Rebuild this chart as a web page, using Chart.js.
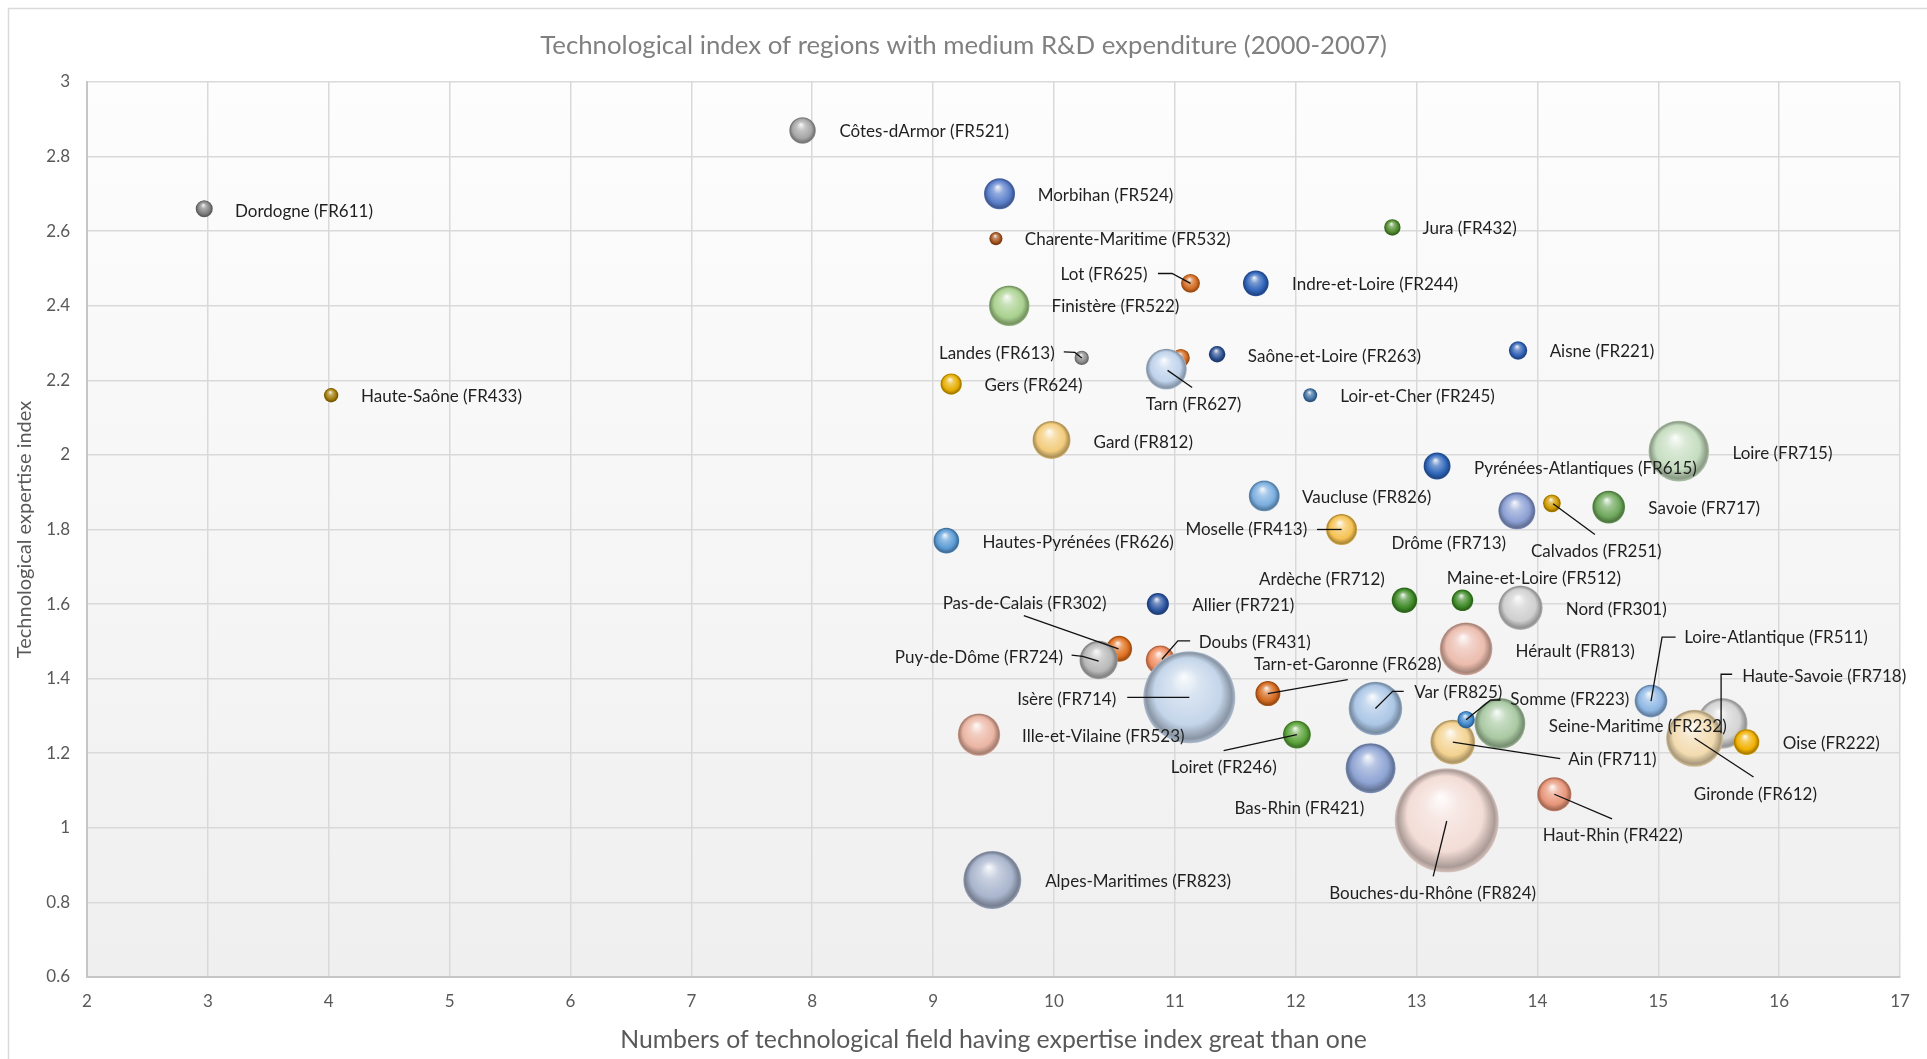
<!DOCTYPE html>
<html>
<head>
<meta charset="utf-8">
<script src="https://cdn.jsdelivr.net/npm/chart.js@4"></script>
<style>
  html, body { margin: 0; padding: 0; background: #ffffff; }
  canvas { display: block; }
</style>
</head>
<body>
<canvas id="c" width="1927" height="1059"></canvas>
<script>
// ---------------- DATA ----------------
const chartTitle = 'Technological index of regions with medium R&D expenditure (2000-2007)';
const xAxisTitle = 'Numbers of technological field having expertise index great than one';
const yAxisTitle = 'Technological expertise index';

const regions = [
  'Côtes-dArmor (FR521)', 'Dordogne (FR611)', 'Morbihan (FR524)', 'Jura (FR432)',
  'Charente-Maritime (FR532)', 'Lot (FR625)', 'Indre-et-Loire (FR244)', 'Finistère (FR522)',
  'Landes (FR613)', '', 'Tarn (FR627)', 'Saône-et-Loire (FR263)', 'Aisne (FR221)',
  'Haute-Saône (FR433)', 'Gers (FR624)', 'Loir-et-Cher (FR245)', 'Gard (FR812)',
  'Loire (FR715)', 'Pyrénées-Atlantiques (FR615)', 'Vaucluse (FR826)', 'Drôme (FR713)',
  'Calvados (FR251)', 'Savoie (FR717)', 'Moselle (FR413)', 'Hautes-Pyrénées (FR626)',
  'Ardèche (FR712)', 'Maine-et-Loire (FR512)', 'Nord (FR301)', 'Allier (FR721)',
  'Hérault (FR813)', 'Pas-de-Calais (FR302)', 'Puy-de-Dôme (FR724)', 'Doubs (FR431)',
  'Isère (FR714)', 'Tarn-et-Garonne (FR628)', 'Var (FR825)', 'Loire-Atlantique (FR511)',
  'Seine-Maritime (FR232)', 'Ain (FR711)', 'Somme (FR223)', 'Haute-Savoie (FR718)',
  'Gironde (FR612)', 'Oise (FR222)', 'Ille-et-Vilaine (FR523)', 'Loiret (FR246)',
  'Bas-Rhin (FR421)', 'Haut-Rhin (FR422)', 'Bouches-du-Rhône (FR824)', 'Alpes-Maritimes (FR823)'
];

// number of technological fields with expertise index > 1
const fieldCounts = [
  7.92, 2.97, 9.55, 12.80,
  9.52, 11.13, 11.67, 9.63,
  10.23, 11.05, 10.93, 11.35, 13.84,
  4.02, 9.15, 12.12, 9.98,
  15.17, 13.17, 11.74, 13.83,
  14.12, 14.59, 12.38, 9.11,
  12.90, 13.38, 13.86, 10.86,
  13.41, 10.54, 10.37, 10.88,
  11.12, 11.77, 12.66, 14.94,
  13.69, 13.30, 13.41, 15.53,
  15.30, 15.73, 9.38, 12.01,
  12.62, 14.14, 13.25, 9.49
];

// technological expertise index
const expertiseIndex = [
  2.87, 2.66, 2.70, 2.61,
  2.58, 2.46, 2.46, 2.40,
  2.26, 2.26, 2.23, 2.27, 2.28,
  2.16, 2.19, 2.16, 2.04,
  2.01, 1.97, 1.89, 1.85,
  1.87, 1.86, 1.80, 1.77,
  1.61, 1.61, 1.59, 1.60,
  1.48, 1.48, 1.45, 1.45,
  1.35, 1.36, 1.32, 1.34,
  1.28, 1.23, 1.29, 1.28,
  1.24, 1.23, 1.25, 1.25,
  1.16, 1.09, 1.02, 0.86
];

// bubble size (relative, Bouches-du-Rhône = 100)
const bubbleSizes = [
  6.5, 2.7, 8.9, 2.5,
  1.6, 3.3, 6.1, 15.2,
  1.9, 3.0, 15.5, 2.5, 3.1,
  1.9, 4.2, 1.8, 13.4,
  34.0, 6.7, 8.8, 12.7,
  2.9, 9.9, 8.9, 6.1,
  6.0, 4.3, 18.2, 4.5,
  25.6, 6.2, 13.6, 7.8,
  78.3, 5.8, 26.6, 9.9,
  23.9, 18.6, 2.8, 23.7,
  30.0, 6.1, 16.6, 7.2,
  23.1, 10.8, 100, 31.1
];

const xTicksMin = 2, xTicksMax = 17, xStep = 1;
const yTicksMin = 0.6, yTicksMax = 3, yStep = 0.2;

// ---------------- STYLE ----------------
const pointColors = [
  '#a6a6a6', '#7f7f7f', '#5b7fcb', '#4e8a2c',
  '#a4521c', '#d2691f', '#3063ba', '#a9d18e',
  '#8c8c8c', '#d2691f', '#bfd3ec', '#2b4f92', '#3060b5',
  '#a07a06', '#e6ad00', '#3f71a3', '#f3cc7c',
  '#c6ddc0', '#2f66ba', '#7aaee0', '#8c9fd4',
  '#d09a00', '#6fa85c', '#f6c252', '#5b9bd5',
  '#3f8a28', '#3f8a28', '#cfcfcf', '#2c55a3',
  '#ebbcad', '#e0701f', '#b8b8b8', '#f08c5f',
  '#c4d5ea', '#d46a1f', '#abc6e6', '#8db6e3',
  '#a9c9a2', '#f3d290', '#3f88cc', '#d4d4d4',
  '#f2dbb0', '#f0b000', '#ebb5a3', '#5aa33a',
  '#8ea4d4', '#e8967a', '#f3dcd6', '#a9b5cd'
];

const K = 1927 / 1568;
// label placement: [dx, dy, align, leader polyline] relative to bubble centre (reference units)
const labelLayout = [
  [30, 1, 'left'], [25, 2, 'left'], [31, 1, 'left'], [24.5, 1, 'left'],
  [23.5, 1, 'left'], [-35, -7, 'right', [[-26.5, -8], [-15, -8], [0, 0]]], [29.5, 1, 'left'], [34.5, 1, 'left'],
  [-22, -3.5, 'right', [[-14.6, -5], [-5.6, -4.5], [0, 0]]], null, [-16.7, 28.8, 'left', [[1, 1], [21, 15]]], [25, 1.6, 'left'], [25.7, 0.6, 'left'],
  [24.3, 0.8, 'left'], [27, 0.8, 'left'], [24.5, 1, 'left'], [34.2, 1.7, 'left'],
  [43.7, 1.6, 'left'], [30, 1.9, 'left'], [30.7, 0.9, 'left'], [-8.8, 26.3, 'right'],
  [-17, 39.3, 'left', [[1, 0.3], [35, 25.3]]], [32.2, 1.1, 'left'], [-28, 0, 'right', [[-20, 0], [0, 0]]], [29.5, 1.3, 'left'],
  [-16, -17.2, 'right'], [-12.7, -17.5, 'left'], [36.8, 1.5, 'left'], [28, 1.2, 'left'],
  [40.3, 2, 'left'], [-77, -37, 'center', [[-0.6, 0], [-77.6, -27]]], [-29, -2.4, 'right', [[0, 1], [-13, -3], [-22, -4]]], [31.3, -14.6, 'left', [[1.3, -0.6], [14.3, -15.6], [24.3, -15.6]]],
  [-59.5, 2, 'right', [[-50.5, 0], [0, 0]]], [65, -23.8, 'center', [[0, 0], [65, -11.3]]], [31.5, -13, 'left', [[0, 0], [14, -14], [23, -14]]], [27, -51.5, 'left', [[0, 0], [9, -52], [20, -52]]],
  [39.7, 2.6, 'left'], [94, 14, 'left', [[0, 0], [87.4, 13.4]]], [36, -16, 'left', [[0, 0], [20, -16], [28, -16]]], [16.3, -38, 'left', [[-1, 8], [-1, -40], [8, -40]]],
  [49.5, 45.5, 'center', [[0, 0], [48, 31.5]]], [29.5, 1.5, 'left'], [35, 1.5, 'left'], [-59.5, 27, 'center', [[0, 0], [-59.6, 13]]],
  [-58, 32.6, 'center'], [47.6, 33.6, 'center', [[0, 0], [47, 20]]], [-11.5, 59.5, 'center', [[0, 0.5], [-11, 45.5]]], [43, 1.6, 'left']
];

const FONT = 'Lato, "Open Sans", sans-serif';
const MAX_R = 52; // px radius of size 100
function radiusFor(size) { return MAX_R * Math.sqrt(size / 100); }

function hexToRgb(h) {
  const n = parseInt(h.slice(1), 16);
  return [(n >> 16) & 255, (n >> 8) & 255, n & 255];
}
function mix(hex, target, t) {
  const a = hexToRgb(hex), b = hexToRgb(target);
  const c = a.map((v, i) => Math.round(v + (b[i] - v) * t));
  return `rgb(${c[0]},${c[1]},${c[2]})`;
}

function bubbleFill(context) {
  const chart = context.chart;
  const i = context.dataIndex;
  const base = pointColors[i];
  const xs = chart.scales.x, ys = chart.scales.y;
  if (!xs || !ys || !context.raw) return base;
  const px = xs.getPixelForValue(context.raw.x);
  const py = ys.getPixelForValue(context.raw.y);
  const r = context.raw.r;
  if (!isFinite(px) || !isFinite(py)) return base;
  const g = chart.ctx.createRadialGradient(px - r * 0.12, py - r * 0.45, r * 0.02, px, py, r);
  g.addColorStop(0, mix(base, '#ffffff', 0.9));
  g.addColorStop(0.3, mix(base, '#ffffff', 0.35));
  g.addColorStop(0.72, base);
  g.addColorStop(0.93, mix(base, '#000000', 0.3));
  g.addColorStop(1, mix(base, '#000000', 0.12));
  return g;
}

const points = fieldCounts.map((x, i) => ({ x: x, y: expertiseIndex[i], r: radiusFor(bubbleSizes[i]) }));

const backgroundPlugin = {
  id: 'bg',
  beforeDraw(chart) {
    const { ctx, chartArea: a } = chart;
    ctx.save();
    ctx.fillStyle = '#ffffff';
    ctx.fillRect(0, 0, chart.width, chart.height);
    ctx.strokeStyle = '#d9d9d9';
    ctx.lineWidth = 1.5;
    ctx.strokeRect(8.5, 8.5, chart.width + 20, chart.height + 20);
    const g = ctx.createLinearGradient(0, a.top, 0, a.bottom);
    g.addColorStop(0, '#fdfdfd');
    g.addColorStop(1, '#efefef');
    ctx.fillStyle = g;
    ctx.fillRect(a.left, a.top, a.right - a.left, a.bottom - a.top);
    ctx.restore();
  }
};

const labelPlugin = {
  id: 'bubbleLabels',
  afterDatasetsDraw(chart) {
    const ctx = chart.ctx;
    const meta = chart.getDatasetMeta(0);
    ctx.save();
    ctx.font = '17px ' + FONT;
    ctx.fillStyle = '#1f1f1f';
    ctx.strokeStyle = '#111111';
    ctx.lineWidth = 1.3;
    ctx.textBaseline = 'middle';
    meta.data.forEach((el, i) => {
      const lay = labelLayout[i];
      if (!lay || !regions[i]) return;
      const { x, y } = el.getProps(['x', 'y'], true);
      if (lay[3]) {
        ctx.beginPath();
        lay[3].forEach((p, k) => {
          const px = x + p[0] * K, py = y + p[1] * K;
          if (k === 0) ctx.moveTo(px, py); else ctx.lineTo(px, py);
        });
        ctx.stroke();
      }
      ctx.textAlign = lay[2];
      ctx.fillText(regions[i], x + lay[0] * K, y + lay[1] * K);
    });
    ctx.restore();
  }
};

new Chart(document.getElementById('c'), {
  type: 'bubble',
  data: {
    datasets: [{
      label: 'Regions',
      data: points,
      backgroundColor: bubbleFill,
      borderWidth: 0,
      borderColor: 'rgba(0,0,0,0)'
    }]
  },
  options: {
    responsive: false,
    animation: false,
    events: [],
    layout: { autoPadding: false, padding: { left: 27, right: 27, top: 0, bottom: 0 } },
    plugins: {
      legend: { display: false },
      tooltip: { enabled: false },
      title: {
        display: true,
        text: chartTitle,
        color: '#808080',
        font: { family: FONT, size: 25.8, weight: 'normal' },
        padding: { top: 30.5, bottom: 20.5 }
      }
    },
    scales: {
      x: {
        type: 'linear',
        min: xTicksMin, max: xTicksMax,
        ticks: { stepSize: xStep, color: '#595959', font: { family: FONT, size: 17 }, padding: 14 },
        grid: { color: '#d9d9d9', lineWidth: 1.5, drawTicks: false },
        border: { color: '#c6c6c6', width: 2 },
        title: { display: true, text: xAxisTitle, color: '#595959', font: { family: FONT, size: 24.8 }, padding: { top: 0, bottom: 4.5 } },
        afterFit(scale) { scale.height = 82; }
      },
      y: {
        type: 'linear',
        min: yTicksMin, max: yTicksMax,
        ticks: {
          stepSize: yStep, color: '#595959', font: { family: FONT, size: 17 }, padding: 17,
          callback: (v) => String(parseFloat(v.toFixed(1)))
        },
        grid: { color: '#d9d9d9', lineWidth: 1.5, drawTicks: false },
        border: { color: '#c6c6c6', width: 2 },
        title: { display: true, text: yAxisTitle, color: '#595959', font: { family: FONT, size: 20 }, padding: { top: -14.4, bottom: 0 } },
        afterFit(scale) { scale.width = 60; }
      }
    }
  },
  plugins: [backgroundPlugin, labelPlugin]
});
</script>
</body>
</html>
